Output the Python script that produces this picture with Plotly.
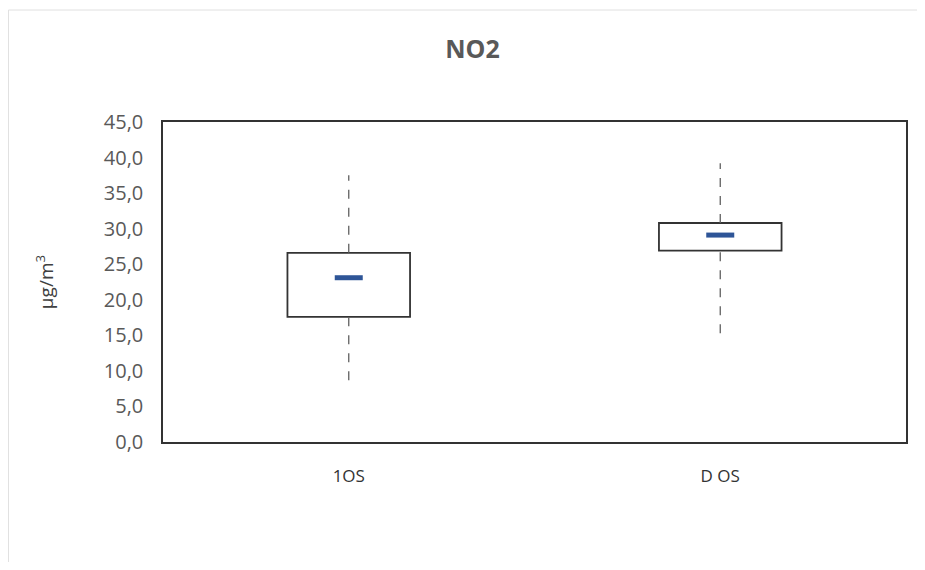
import plotly.graph_objects as go

categories = ["1OS", "D OS"]
q1 = [17.6, 26.9]
q3 = [26.6, 30.8]
mean = [23.1, 29.1]
whisker_min = [8.7, 15.3]
whisker_max = [37.5, 39.2]

fig = go.Figure()

# boxes (q1 -> q3)
fig.add_trace(go.Bar(
    x=categories,
    y=[b - a for a, b in zip(q1, q3)],
    base=q1,
    width=0.33,
    marker=dict(color="white", line=dict(color="#333333", width=1.8)),
    hoverinfo="skip",
    showlegend=False,
))

# whiskers
wx, wy = [], []
for c, lo, a, b, hi in zip(categories, whisker_min, q1, q3, whisker_max):
    wx += [c, c, None, c, c, None]
    wy += [b, hi, None, lo, a, None]
fig.add_trace(go.Scatter(
    x=wx, y=wy, mode="lines",
    line=dict(color="#606060", width=1.3, dash="dash"),
    hoverinfo="skip", showlegend=False,
))

# mean markers
fig.add_trace(go.Scatter(
    x=categories, y=mean, mode="markers",
    marker=dict(symbol="line-ew", size=20,
                line=dict(color="#2E5597", width=5)),
    showlegend=False,
))

fig.update_layout(
    width=909, height=554,
    margin=dict(l=155, r=9, t=114, b=120),
    paper_bgcolor="white", plot_bgcolor="white",
    separators=",.",
    title=dict(text="<b>NO2</b>", x=0.511, xanchor="center", y=0.925, yanchor="middle",
               font=dict(family="Open Sans, Noto Sans, sans-serif", size=25, color="#595959")),
    font=dict(family="Open Sans, Noto Sans, sans-serif", color="#595959"),
    xaxis=dict(
        type="category", range=[-0.5, 1.5],
        showline=True, mirror=True, linecolor="#333333", linewidth=2,
        showgrid=False, ticks="", tickfont=dict(size=17, color="#333333"),
        ticklabelstandoff=18,
    ),
    yaxis=dict(
        range=[0, 45], dtick=5, tickformat=".1f",
        showline=True, mirror=True, linecolor="#333333", linewidth=1.5,
        showgrid=False, zeroline=False, ticks="",
        ticklabelstandoff=14,
        tickfont=dict(size=20, color="#595959"),
        title=dict(text="µg/m<sup>3</sup>", font=dict(size=19, color="#404040"), standoff=45),
    ),
    shapes=[
        dict(type="line", xref="paper", yref="paper", x0=-0.208, x1=1.03, y0=1.35, y1=1.35,
             line=dict(color="#e0e0e0", width=1)),
        dict(type="line", xref="paper", yref="paper", x0=-0.208, x1=-0.208, y0=1.35, y1=-0.4,
             line=dict(color="#e0e0e0", width=1)),
    ],
)

fig.write_html("out.html")
